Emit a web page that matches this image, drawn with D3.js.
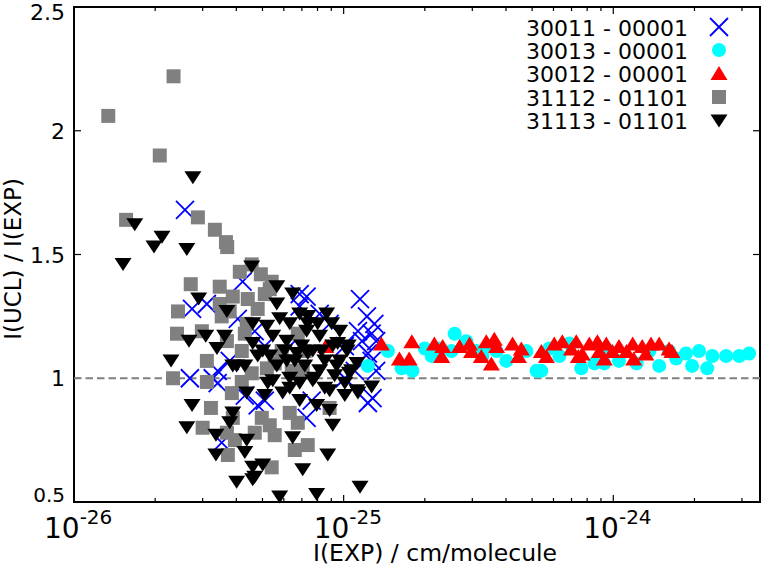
<!DOCTYPE html>
<html><head><meta charset="utf-8">
<script src="https://cdn.jsdelivr.net/npm/d3@7"></script>
<style>body{margin:0;background:#fff} svg{display:block} text{font-family:"DejaVu Sans",sans-serif}</style>
</head><body><svg id="c" width="762" height="567"></svg>
<script>
// ---- data ----
const legendLabels = ["30011 - 00001","30013 - 00001","30012 - 00001","31112 - 01101","31113 - 01101"];
const xMajorTicks = [1e-26,1e-25,1e-24];
const xMajorExps = ["-26","-25","-24"];
const xMinorTicks = [2e-26,3e-26,4e-26,5e-26,6e-26,7e-26,8e-26,9e-26,2e-25,3e-25,4e-25,5e-25,6e-25,7e-25,8e-25,9e-25,2e-24,3e-24];
const yTicks = [0.5,1,1.5,2,2.5];
const yTickLabels = ["0.5","1","1.5","2","2.5"];

const s30011 = [[2.58e-26,1.68],[2.74e-26,1.28],[3.11e-26,1.30],[4.22e-26,1.39],[2.69e-26,1.00],[3.27e-26,1.00],[3.41e-26,0.98],[3.78e-26,1.07],[3.53e-26,0.74],[6.87e-26,1.34],[7.29e-26,1.33],[6.87e-26,1.29],[1.15e-25,1.32],[1.22e-25,1.25],[1.30e-25,1.22],[1.13e-25,1.19],[1.27e-25,1.18],[1.17e-25,1.15],[1.32e-25,1.15],[1.23e-25,1.10],[1.27e-25,1.07],[1.32e-25,1.03],[1.10e-25,1.03],[1.01e-25,1.00],[1.28e-25,0.92],[1.23e-25,0.90],[7.61e-26,0.91],[7.29e-26,0.84],[8.87e-26,1.22],[4.05e-26,1.24],[4.68e-26,1.19],[4.80e-26,0.89],[3.41e-26,1.03],[5.10e-26,1.13],[6.31e-26,1.13],[4.30e-26,0.93],[5.10e-26,0.91],[1.01e-25,1.13],[8.15e-26,1.26]];

const s30013 = [[1.23e-25,1.05],[1.46e-25,1.11],[1.64e-25,1.04],[1.80e-25,1.03],[2.00e-25,1.12],[2.12e-25,1.09],[2.58e-25,1.18],[2.51e-25,1.11],[2.85e-25,1.15],[3.11e-25,1.11],[3.27e-25,1.09],[3.69e-25,1.11],[4.01e-25,1.07],[4.76e-25,1.11],[5.19e-25,1.03],[5.41e-25,1.03],[6.31e-25,1.09],[6.87e-25,1.14],[7.61e-25,1.04],[8.51e-25,1.06],[9.26e-25,1.06],[1.05e-24,1.07],[1.22e-24,1.06],[1.48e-24,1.05],[1.71e-24,1.08],[1.86e-24,1.10],[1.96e-24,1.05],[2.08e-24,1.11],[2.23e-24,1.04],[2.33e-24,1.09],[2.62e-24,1.09],[2.93e-24,1.09],[3.19e-24,1.10],[2.27e-25,1.12],[3.47e-25,1.13],[5.79e-25,1.12],[9.67e-25,1.11],[1.36e-24,1.11],[1.61e-24,1.11]];

const s30012 = [[8.58e-26,1.13],[1.38e-25,1.14],[1.61e-25,1.08],[1.75e-25,1.08],[1.79e-25,1.15],[2.17e-25,1.14],[2.33e-25,1.13],[2.31e-25,1.09],[2.69e-25,1.13],[2.93e-25,1.14],[2.98e-25,1.11],[3.24e-25,1.09],[3.38e-25,1.15],[3.62e-25,1.16],[3.69e-25,1.13],[3.53e-25,1.06],[4.23e-25,1.14],[4.56e-25,1.12],[4.45e-25,1.09],[5.41e-25,1.11],[5.65e-25,1.09],[6.04e-25,1.14],[6.47e-25,1.15],[6.99e-25,1.12],[7.29e-25,1.15],[7.42e-25,1.09],[8.15e-25,1.14],[8.73e-25,1.15],[9.42e-25,1.14],[9.26e-25,1.08],[1.05e-24,1.13],[1.18e-24,1.14],[1.19e-24,1.08],[1.28e-24,1.13],[1.38e-24,1.14],[1.48e-24,1.14],[1.61e-24,1.12],[1.65e-24,1.11],[8.87e-25,1.11],[9.92e-25,1.11],[1.12e-24,1.11],[1.32e-24,1.10],[7.67e-25,1.10]];

const s31112 = [[1.34e-26,2.06],[2.34e-26,2.22],[2.08e-26,1.90],[1.56e-26,1.64],[2.88e-26,1.65],[3.33e-26,1.60],[3.66e-26,1.55],[3.70e-26,1.53],[4.56e-26,1.46],[4.12e-26,1.43],[4.93e-26,1.42],[5.41e-26,1.39],[2.71e-26,1.38],[3.47e-26,1.37],[2.43e-26,1.27],[2.41e-26,1.18],[2.98e-26,1.19],[3.11e-26,1.07],[2.33e-26,1.00],[3.11e-26,0.985],[3.22e-26,0.88],[3.00e-26,0.80],[3.47e-26,1.30],[3.88e-26,1.33],[4.41e-26,1.32],[5.10e-26,1.34],[3.53e-26,1.25],[3.78e-26,1.27],[4.37e-26,1.22],[3.69e-26,1.15],[4.30e-26,1.18],[4.19e-26,1.11],[4.80e-26,1.28],[5.89e-26,1.11],[7.17e-26,1.11],[5.55e-26,1.06],[6.42e-26,1.03],[6.76e-26,1.18],[4.56e-26,1.02],[5.19e-26,1.04],[7.05e-26,1.03],[3.85e-26,0.94],[4.19e-26,0.985],[4.97e-26,0.84],[5.32e-26,0.81],[4.68e-26,0.78],[5.55e-26,0.77],[3.95e-26,0.75],[3.72e-26,0.69],[6.59e-26,0.71],[7.36e-26,0.73],[5.41e-26,0.64],[6.76e-26,0.82],[3.88e-26,0.84],[6.31e-26,0.86],[8.87e-26,0.88],[3.69e-26,0.78],[5.32e-26,1.36]];

const s31113 = [[2.76e-26,1.81],[1.68e-26,1.62],[2.12e-26,1.57],[1.98e-26,1.53],[2.62e-26,1.52],[1.52e-26,1.46],[4.56e-26,1.45],[5.65e-26,1.37],[2.90e-26,1.32],[2.67e-26,1.15],[3.08e-26,1.17],[2.29e-26,1.07],[3.39e-26,1.12],[2.74e-26,0.89],[2.62e-26,0.80],[3.36e-26,0.77],[3.36e-26,0.69],[3.69e-26,1.27],[4.01e-26,1.05],[4.30e-26,1.05],[4.37e-26,0.94],[3.88e-26,0.86],[3.78e-26,0.82],[4.37e-26,0.75],[4.30e-26,0.70],[4.60e-26,0.64],[5.01e-26,0.65],[4.01e-26,0.58],[4.60e-26,0.59],[5.79e-26,0.52],[7.94e-26,0.53],[6.47e-26,1.34],[5.65e-26,1.30],[5.79e-26,1.24],[6.31e-26,1.22],[5.46e-26,1.17],[4.60e-26,1.14],[5.01e-26,1.11],[6.15e-26,1.07],[5.65e-26,1.05],[6.31e-26,1.00],[5.94e-26,0.94],[5.46e-26,0.99],[6.47e-26,0.76],[7.05e-26,0.63],[8.73e-26,0.69],[1.15e-25,0.56],[7.94e-26,0.89],[8.87e-26,0.87],[9.11e-26,0.81],[8.65e-26,1.26],[7.29e-26,1.19],[8.15e-26,1.17],[7.68e-26,1.11],[9.11e-26,1.13],[1.03e-25,1.11],[1.12e-25,1.06],[1.05e-25,1.02],[9.67e-26,1.07],[8.87e-26,0.95],[1.12e-25,0.95],[1.27e-25,0.965],[6.87e-26,0.98],[7.68e-26,0.99],[8.15e-26,1.03],[6.70e-26,1.10],[6.15e-26,1.15],[5.19e-26,1.21],[4.60e-26,1.22],[3.62e-26,1.17],[4.80e-26,1.09],[3.88e-26,1.05],[6.59e-26,1.07],[6.99e-26,1.13],[7.36e-26,1.22],[5.23e-26,0.98],[6.31e-26,0.96],[4.68e-26,0.60],[7.36e-26,1.25],[9.03e-26,1.22],[9.50e-26,1.14],[7.36e-26,1.10],[8.29e-26,1.11],[1.04e-25,1.13],[9.42e-26,1.05],[7.81e-26,1.00],[1.07e-25,1.03],[8.51e-26,0.96],[1.13e-25,0.94],[1.01e-25,0.98],[6.87e-26,1.26],[8.01e-26,1.22],[9.67e-26,1.19],[8.51e-26,1.07],[7.17e-26,1.05],[6.04e-26,1.11],[5.32e-26,1.09],[9.26e-26,1.01],[1.01e-25,0.93],[6.87e-26,0.91],[5.10e-26,0.93]];

// ---- layout ----
const L=74,R=760,T=7,B=502;
const svg = d3.select("#c");
svg.append("rect").attr("width",762).attr("height",567).attr("fill","#fff");
const x = d3.scaleLog().domain([1e-26,3.5e-24]).range([L,R]);
const y = d3.scaleLinear().domain([0.5,2.5]).range([B,T]);

// frame
svg.append("rect").attr("x",L).attr("y",T).attr("width",R-L).attr("height",B-T)
  .attr("fill","none").attr("stroke","#000").attr("stroke-width",2);

// ticks
const tk = svg.append("g").attr("stroke","#000").attr("stroke-width",1.2);
xMajorTicks.forEach(v=>{
  tk.append("line").attr("x1",x(v)).attr("x2",x(v)).attr("y1",B).attr("y2",B-7);
  tk.append("line").attr("x1",x(v)).attr("x2",x(v)).attr("y1",T).attr("y2",T+7);
});
xMinorTicks.forEach(v=>{
  tk.append("line").attr("x1",x(v)).attr("x2",x(v)).attr("y1",B).attr("y2",B-4);
  tk.append("line").attr("x1",x(v)).attr("x2",x(v)).attr("y1",T).attr("y2",T+4);
});
yTicks.forEach(v=>{
  tk.append("line").attr("x1",L).attr("x2",L+7).attr("y1",y(v)).attr("y2",y(v));
  tk.append("line").attr("x1",R).attr("x2",R-7).attr("y1",y(v)).attr("y2",y(v));
});

// tick labels
xMajorTicks.forEach((v,i)=>{
  const t = svg.append("text").attr("x",x(v)-30).attr("y",538).attr("font-size",28).attr("fill","#000");
  t.append("tspan").text("10");
  t.append("tspan").attr("dy",-14).attr("font-size",20).text(xMajorExps[i]);
});
yTicks.forEach((v,i)=>{
  let yy = y(v)+8, fs = 22;
  if (v===2.5) yy = 20;
  if (v===0.5) { yy = 502; fs = 20; }
  svg.append("text").attr("x",65).attr("y",yy).attr("text-anchor","end")
    .attr("font-size",fs).text(yTickLabels[i]);
});

// axis titles
svg.append("text").attr("x",313).attr("y",561).attr("font-size",23.5).text("I(EXP) / cm/molecule");
svg.append("text").attr("transform","translate(21,259) rotate(-90)").attr("text-anchor","middle")
  .attr("font-size",23).text("I(UCL) / I(EXP)");

// reference line
svg.append("line").attr("x1",x(1e-26)).attr("x2",x(3.5e-24)).attr("y1",y(1)).attr("y2",y(1))
  .attr("stroke","#808080").attr("stroke-width",2).attr("stroke-dasharray","7.5,4");

// markers
const shapes = [
  {data:s30011, path:"M-9,-9L9,9M-9,9L9,-9", fill:"none", stroke:"#0000ff"},
  {data:s30013, path:"M7,0A7,7 0 1 1 -7,0A7,7 0 1 1 7,0Z", fill:"#00ffff", stroke:"none"},
  {data:s30012, path:"M0,-7L8.5,7L-8.5,7Z", fill:"#ff0000", stroke:"none"},
  {data:s31112, path:"M-7,-7H7V7H-7Z", fill:"#808080", stroke:"none"},
  {data:s31113, path:"M-8.5,-6.5H8.5L0,6.5Z", fill:"#000000", stroke:"none"}
];
shapes.forEach(s=>{
  svg.append("g").selectAll("path").data(s.data).join("path")
    .attr("d",s.path).attr("transform",d=>`translate(${x(d[0])},${y(d[1])})`)
    .attr("fill",s.fill).attr("stroke",s.stroke).attr("stroke-width",1.8);
});

// legend
const legY = [36,59,82,106,129];
const legSymY = [27,50,73,97,121];
shapes.forEach((s,i)=>{
  svg.append("text").attr("x",688).attr("y",legY[i]).attr("text-anchor","end")
    .attr("font-size",22).text(legendLabels[i]);
  svg.append("path").attr("d",s.path).attr("transform",`translate(719,${legSymY[i]})`)
    .attr("fill",s.fill).attr("stroke",s.stroke).attr("stroke-width",1.8);
});
</script></body></html>
